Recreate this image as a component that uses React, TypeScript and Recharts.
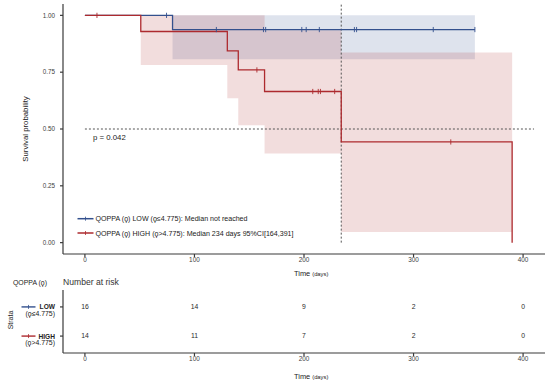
import React from "react";
import {
  ComposedChart,
  Line,
  Area,
  Scatter,
  XAxis,
  YAxis,
  ReferenceLine,
} from "recharts";

// ---------- data ----------
const lowTime = [0, 80, 356];
const lowSurv = [1, 0.9375, 0.9375];
const lowLower = [1, 0.807, 0.807];
const lowUpper = [1, 1, 1];
const lowCensorTime = [74.5, 120, 163, 165, 198, 202, 214, 246, 248, 318, 356];
const lowCensorSurv = [1, 0.9375, 0.9375, 0.9375, 0.9375, 0.9375, 0.9375, 0.9375, 0.9375, 0.9375, 0.9375];

const highTime = [0, 51, 130, 140, 164, 234, 390];
const highSurv = [1, 0.929, 0.844, 0.76, 0.665, 0.443, 0];
const highLower = [1, 0.782, 0.635, 0.516, 0.392, 0.047, 0.047];
const highUpper = [1, 1, 1, 1, 0.935, 0.837, 0.837];
const highCensorTime = [11, 157, 208, 213, 215, 228, 334];
const highCensorSurv = [1, 0.76, 0.665, 0.665, 0.665, 0.665, 0.443];

const medianDay = 234;
const xTicks = [0, 100, 200, 300, 400];
const yTicks = [0, 0.25, 0.5, 0.75, 1];

const riskTimes = [0, 100, 200, 300, 400];
const riskLow = [16, 14, 9, 2, 0];
const riskHigh = [14, 11, 7, 2, 0];

const pValueText = "p = 0.042";
const legendLow = "QOPPA (\u03D9) LOW  (\u03D9\u22644.775): Median not reached";
const legendHigh = "QOPPA (\u03D9) HIGH (\u03D9>4.775): Median 234 days 95%CI[164,391]";
const strataTitle = "QOPPA (\u03D9)";

// ---------- styles ----------
const BLUE = "#33508d";
const RED = "#ad2a2e";
const FONT = "'Liberation Sans', Arial, sans-serif";
const AXIS = "#3a3a3a";
const TICKTXT = "#3d3d3d";

const curveRows = [
  ...lowTime.map((t, i) => ({ t, low: lowSurv[i], lowBand: [lowLower[i], lowUpper[i]] })),
  ...highTime.map((t, i) => ({ t, high: highSurv[i], highBand: [highLower[i], highUpper[i]] })),
];
const lowCensor = lowCensorTime.map((t, i) => ({ t, s: lowCensorSurv[i] }));
const highCensor = highCensorTime.map((t, i) => ({ t, s: highCensorSurv[i] }));

const riskRows = [
  ...riskTimes.map((t, i) => ({ t, row: 2, n: riskLow[i] })),
  ...riskTimes.map((t, i) => ({ t, row: 1, n: riskHigh[i] })),
];

const censorShape = (color: string) => (props: any) => {
  const { cx, cy } = props;
  if (cx == null || cy == null) return <g />;
  return (
    <line x1={cx} x2={cx} y1={cy - 2.6} y2={cy + 2.6} stroke={color} strokeWidth={0.9} />
  );
};

const riskShape = (props: any) => {
  const { cx, cy, payload } = props;
  return (
    <text x={cx} y={cy + 2.4} textAnchor="middle" fontSize={6.8} fontFamily={FONT} fill="#2a2a2a">
      {payload.n}
    </text>
  );
};

const XTick = (props: any) => {
  const { x, y, payload } = props;
  return (
    <text x={x} y={y + 5} textAnchor="middle" fontSize={6.4} fontFamily={FONT} fill={TICKTXT}>
      {payload.value}
    </text>
  );
};

const YTick = (props: any) => {
  const { x, y, payload } = props;
  return (
    <text x={x} y={y + 2.2} textAnchor="end" fontSize={6.3} fontFamily={FONT} fill={TICKTXT}>
      {Number(payload.value).toFixed(2)}
    </text>
  );
};

const RiskYTick = (props: any) => {
  const { y, payload } = props;
  const isLow = payload.value === 2;
  const color = isLow ? BLUE : RED;
  const main = isLow ? "LOW" : "HIGH";
  const sub = isLow ? "(\u03D9\u22644.775)" : "(\u03D9>4.775)";
  return (
    <g>
      <line x1={21.5} x2={35.5} y1={y} y2={y} stroke={color} strokeWidth={1.4} />
      <line x1={28.5} x2={28.5} y1={y - 2} y2={y + 2} stroke={color} strokeWidth={0.8} />
      <text x={55} y={y + 2.5} textAnchor="end" fontSize={6.6} fontWeight="bold" fontFamily={FONT} fill="#222">
        {main}
      </text>
      <text x={55} y={y + 9.4} textAnchor="end" fontSize={6.9} fontFamily={FONT} fill="#222">
        {sub}
      </text>
    </g>
  );
};

export default function App() {
  return (
    <div style={{ position: "absolute", left: 0, top: 0, width: 550, height: 380, background: "#fff", overflow: "hidden" }}>
      {/* main KM plot */}
      <div style={{ position: "absolute", left: 0, top: 0 }}>
        <ComposedChart
          width={550}
          height={284}
          data={curveRows}
          margin={{ top: 4, right: 5, bottom: 0, left: 0 }}
        >
          <XAxis
            type="number"
            dataKey="t"
            domain={[-20, 420]}
            ticks={xTicks}
            allowDataOverflow
            height={30}
            tickSize={3}
            tickMargin={0}
            tick={<XTick />}
            stroke={AXIS}
            strokeWidth={1.2}
            interval={0}
          />
          <YAxis
            type="number"
            domain={[-0.05, 1.05]}
            ticks={yTicks}
            allowDataOverflow
            width={63}
            tickSize={3}
            tickMargin={5}
            tick={<YTick />}
            stroke={AXIS}
            strokeWidth={1.2}
            interval={0}
          />
          <Area
            type="stepAfter"
            dataKey="lowBand"
            stroke="none"
            fill={BLUE}
            fillOpacity={0.16}
            connectNulls
            isAnimationActive={false}
            activeDot={false}
            dot={false}
          />
          <Area
            type="stepAfter"
            dataKey="highBand"
            stroke="none"
            fill={RED}
            fillOpacity={0.16}
            connectNulls
            isAnimationActive={false}
            activeDot={false}
            dot={false}
          />
          <ReferenceLine
            segment={[{ x: 0, y: 0.5 }, { x: 410, y: 0.5 }]}
            stroke="#555"
            strokeDasharray="2 2"
            strokeWidth={1}
          />
          <ReferenceLine
            segment={[{ x: medianDay, y: 0 }, { x: medianDay, y: 1.05 }]}
            stroke="#555"
            strokeDasharray="2 2"
            strokeWidth={1}
          />
          <Line
            type="stepAfter"
            dataKey="low"
            stroke={BLUE}
            strokeWidth={1.3}
            dot={false}
            activeDot={false}
            connectNulls
            isAnimationActive={false}
          />
          <Line
            type="stepAfter"
            dataKey="high"
            stroke={RED}
            strokeWidth={1.3}
            dot={false}
            activeDot={false}
            connectNulls
            isAnimationActive={false}
          />
          <Scatter data={lowCensor} dataKey="s" shape={censorShape(BLUE)} isAnimationActive={false} />
          <Scatter data={highCensor} dataKey="s" shape={censorShape(RED)} isAnimationActive={false} />
        </ComposedChart>
      </div>

      {/* risk table */}
      <div style={{ position: "absolute", left: 0, top: 280 }}>
        <ComposedChart
          width={550}
          height={100}
          data={riskRows}
          margin={{ top: 10, right: 5, bottom: 0, left: 0 }}
        >
          <XAxis
            type="number"
            dataKey="t"
            domain={[-20, 420]}
            ticks={xTicks}
            allowDataOverflow
            height={27}
            tickSize={3}
            tickMargin={0}
            tick={<XTick />}
            stroke={AXIS}
            strokeWidth={1.2}
            interval={0}
          />
          <YAxis
            type="number"
            dataKey="row"
            domain={[0.42, 2.58]}
            ticks={[1, 2]}
            allowDataOverflow
            width={63}
            tickSize={3}
            tick={<RiskYTick />}
            stroke={AXIS}
            strokeWidth={1.2}
            interval={0}
          />
          <Scatter dataKey="row" shape={riskShape} isAnimationActive={false} />
        </ComposedChart>
      </div>

      {/* annotations */}
      <svg
        width={550}
        height={380}
        style={{ position: "absolute", left: 0, top: 0, pointerEvents: "none" }}
        fontFamily={FONT}
      >
        <text x={25} y={129} transform="rotate(-90 25 129)" textAnchor="middle" dominantBaseline="central" fontSize={7.8} fill="#222">
          Survival probability
        </text>
        <text x={294} y={275.5} fontSize={7.4} fill="#222">
          Time <tspan fontSize={5.8}>(days)</tspan>
        </text>
        <text x={93} y={139.5} fontSize={7.8} fill="#222">
          {pValueText}
        </text>

        {/* legend */}
        <line x1={77.5} x2={93.5} y1={218.7} y2={218.7} stroke={BLUE} strokeWidth={1.5} />
        <line x1={85.5} x2={85.5} y1={216.7} y2={220.7} stroke={BLUE} strokeWidth={0.8} />
        <text x={95.5} y={221.2} fontSize={7.1} fill="#1a1a1a">{legendLow}</text>
        <line x1={77.5} x2={93.5} y1={233} y2={233} stroke={RED} strokeWidth={1.5} />
        <line x1={85.5} x2={85.5} y1={231} y2={235} stroke={RED} strokeWidth={0.8} />
        <text x={95.5} y={235.5} fontSize={7.1} fill="#1a1a1a">{legendHigh}</text>

        {/* risk table titles */}
        <text x={13} y={284.7} fontSize={6.9} fill="#222">{strataTitle}</text>
        <text x={63} y={285} fontSize={8.6} fill="#333">Number at risk</text>
        <text x={10} y={320} transform="rotate(-90 10 320)" textAnchor="middle" dominantBaseline="central" fontSize={7} fill="#222">
          Strata
        </text>
        <text x={294} y={379} fontSize={7.4} fill="#222">
          Time <tspan fontSize={5.8}>(days)</tspan>
        </text>
      </svg>
    </div>
  );
}
